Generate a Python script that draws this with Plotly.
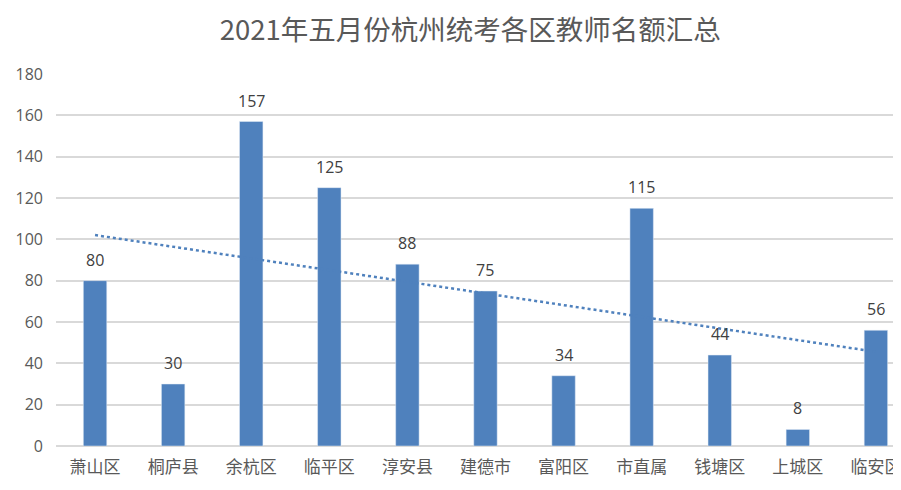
import numpy as np
import plotly.graph_objects as go

districts = ["萧山区", "桐庐县", "余杭区", "临平区", "淳安县", "建德市",
             "富阳区", "市直属", "钱塘区", "上城区", "临安区"]
quota = [80, 30, 157, 125, 88, 75, 34, 115, 44, 8, 56]

# linear trendline like Excel's
idx = np.arange(len(quota))
slope, intercept = np.polyfit(idx, quota, 1)
trend = slope * idx + intercept

bar_color = "#4F81BD"
font_cjk = "Noto Sans CJK SC"

fig = go.Figure()
fig.add_trace(go.Bar(x=idx, y=quota, marker_color=bar_color, width=0.3,
                     showlegend=False))
fig.add_trace(go.Scatter(x=idx, y=trend, mode="lines",
                         line=dict(color=bar_color, width=2.5, dash="dot"),
                         showlegend=False))

for i, v in enumerate(quota):
    fig.add_annotation(x=i, y=v, text=str(v), showarrow=False, yshift=21,
                       font=dict(size=16, color="#404040", family="Open Sans"))

# page body has an 8px margin, so the margins are shifted to compensate
fig.update_layout(
    width=901, height=490,
    margin=dict(l=41, r=8, t=66, b=52),
    plot_bgcolor="white", paper_bgcolor="white",
    title=dict(text="2021年五月份杭州统考各区教师名额汇总", x=0.513, xanchor="center",
               y=0.955, yanchor="middle",
               font=dict(size=27.5, color="#595959", family=font_cjk)),
    bargap=0.7,
)
fig.update_xaxes(tickmode="array", tickvals=idx, ticktext=districts,
                 range=[-0.5, 10.27], showgrid=False, ticks="",
                 ticklabeloverflow="allow", ticklabelstandoff=9,
                 tickfont=dict(size=17, color="#595959", family=font_cjk),
                 showline=False)
fig.update_yaxes(range=[0, 180], dtick=20, showgrid=True, gridcolor="#D9D9D9",
                 gridwidth=1.5, zeroline=True, zerolinecolor="#D9D9D9",
                 zerolinewidth=1.5, ticks="", ticklabelstandoff=12,
                 tickfont=dict(size=16, color="#595959", family="Open Sans"))

fig.write_html("out.html")
